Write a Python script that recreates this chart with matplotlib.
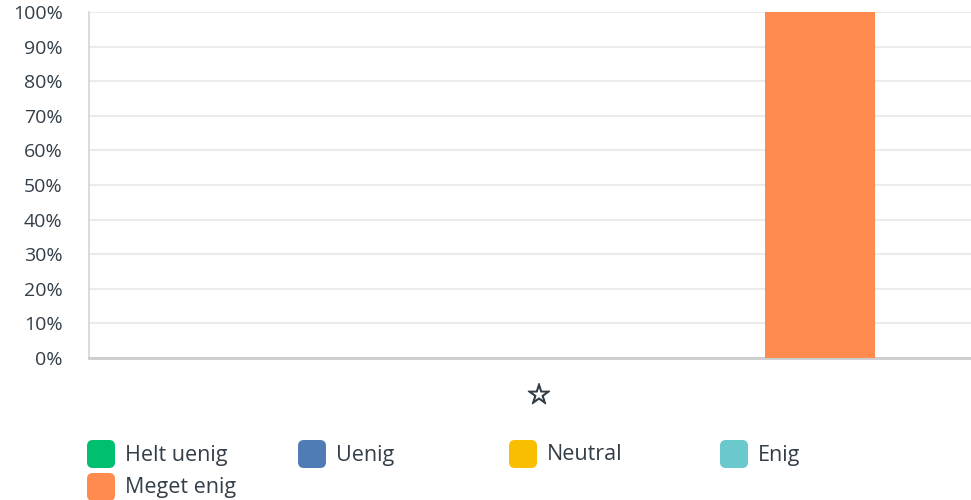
import numpy as np
import matplotlib as mpl
mpl.use('Agg')
import matplotlib.pyplot as plt
import matplotlib.patheffects as pe
from matplotlib.patches import FancyBboxPatch

# data
groups = ['☆']
labels = ['Helt uenig', 'Uenig', 'Neutral', 'Enig', 'Meget enig']
values = [0, 0, 0, 0, 100]   # percent
colors = ['#00bf6f', '#507cb6', '#f9be00', '#6bc8cd', '#ff8b4f']
yticks = [0, 10, 20, 30, 40, 50, 60, 70, 80, 90, 100]

txt = '#333e48'
plt.rcParams['font.family'] = ['Open Sans', 'DejaVu Sans']

fig = plt.figure(figsize=(9.71, 5.0), dpi=100)
ax = fig.add_axes([89/971, 1 - 358/500, 1 - 89/971, 346/500])

pos = np.arange(len(labels))
ax.bar(pos, values, width=0.78, color=colors, zorder=3)

ax.set_xlim(-1.203, 5.075)
ax.set_ylim(0, 100)
ax.set_yticks(yticks)
ax.set_yticklabels([f'{v}%' for v in yticks], fontsize=14, color=txt)
ax.set_xticks([2])
ax.set_xticklabels(groups, fontsize=20, color=txt, family=['DejaVu Sans'])
for t in ax.get_xticklabels():
    t.set_path_effects([pe.withStroke(linewidth=0.9, foreground=txt)])
ax.tick_params(axis='y', length=0, pad=19)
ax.tick_params(axis='x', length=0, pad=17)
ax.grid(axis='y', color='#ebebeb', linewidth=1.5, zorder=0)
for s in ['top', 'right']:
    ax.spines[s].set_visible(False)
ax.spines['left'].set_color('#d4d4d4')
ax.spines['left'].set_linewidth(1.2)
ax.spines['bottom'].set_color('#cccccc')
ax.spines['bottom'].set_linewidth(2)

# legend, drawn by hand: 4 per row
W, H = 971, 500
for i, (lab, c) in enumerate(zip(labels, colors)):
    col, row = i % 4, i // 4
    x0 = 87 + col * 211
    y0 = 440 + row * 33
    box = FancyBboxPatch((x0 / W, 1 - (y0 + 28) / H), 28 / W, 28 / H,
                         boxstyle='round,pad=0,rounding_size=0.006',
                         transform=fig.transFigure, facecolor=c, edgecolor='none',
                         mutation_aspect=W / H)
    fig.patches.append(box)
    fig.text((x0 + 38) / W, 1 - (y0 + 15) / H, lab, fontsize=15.5, color=txt,
             va='center', ha='left')

fig.savefig('out.png', dpi=100)
